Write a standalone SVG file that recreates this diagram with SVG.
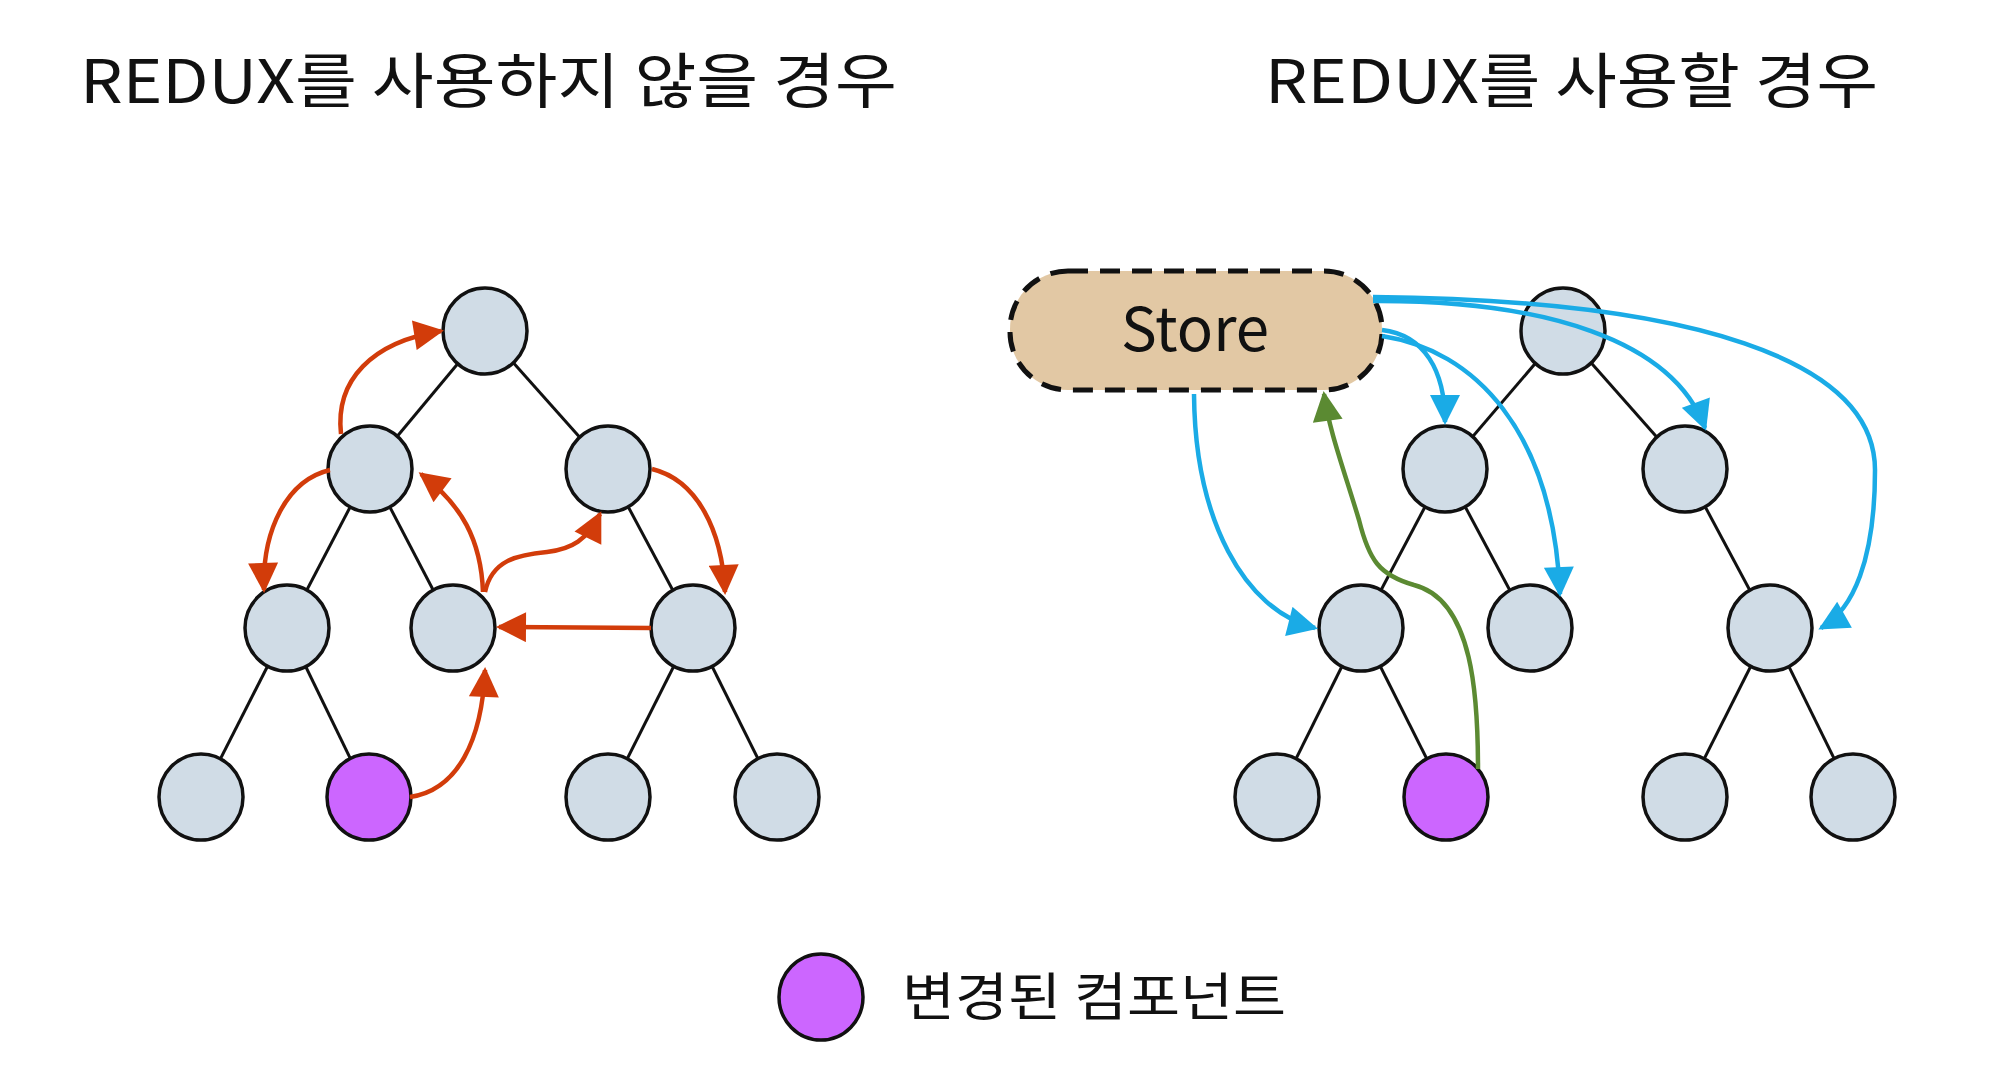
<svg xmlns="http://www.w3.org/2000/svg" width="2000" height="1074" viewBox="0 0 2000 1074">
<style>
.title{font-family:"Noto Sans CJK KR","Liberation Sans",sans-serif;font-size:60px;fill:#111}
.node{fill:#d0dce6;stroke:#111;stroke-width:3.5}
.changed{fill:#cc66ff;stroke:#111;stroke-width:3.5}
.edge{stroke:#111;stroke-width:3;fill:none}
.red{stroke:#d23c0a;stroke-width:4.5;fill:none}
.blue{stroke:#1aabe6;stroke-width:4.5;fill:none}
.green{stroke:#5b8a32;stroke-width:4.5;fill:none}
</style>
<defs>
<marker id="arR" viewBox="0 0 10 10" refX="9" refY="5" markerWidth="32" markerHeight="30" markerUnits="userSpaceOnUse" orient="auto"><path d="M0,0 L10,5 L0,10 z" fill="#d23c0a"/></marker>
<marker id="arB" viewBox="0 0 10 10" refX="9" refY="5" markerWidth="32" markerHeight="30" markerUnits="userSpaceOnUse" orient="auto"><path d="M0,0 L10,5 L0,10 z" fill="#1aabe6"/></marker>
<marker id="arG" viewBox="0 0 10 10" refX="9" refY="5" markerWidth="32" markerHeight="30" markerUnits="userSpaceOnUse" orient="auto"><path d="M0,0 L10,5 L0,10 z" fill="#5b8a32"/></marker>
</defs>
<rect width="2000" height="1074" fill="#fff"/>
<text class="title" x="80" y="103" textLength="817" lengthAdjust="spacingAndGlyphs">REDUX를 사용하지 않을 경우</text>
<text class="title" x="1265" y="103" textLength="613" lengthAdjust="spacingAndGlyphs">REDUX를 사용할 경우</text>

<g id="tree-edges">
<line class="edge" x1="485" y1="331" x2="370" y2="469"/>
<line class="edge" x1="485" y1="331" x2="608" y2="469"/>
<line class="edge" x1="370" y1="469" x2="287" y2="628"/>
<line class="edge" x1="370" y1="469" x2="453" y2="628"/>
<line class="edge" x1="608" y1="469" x2="693" y2="628"/>
<line class="edge" x1="287" y1="628" x2="201" y2="797"/>
<line class="edge" x1="287" y1="628" x2="369" y2="797"/>
<line class="edge" x1="693" y1="628" x2="608" y2="797"/>
<line class="edge" x1="693" y1="628" x2="777" y2="797"/>
<line class="edge" x1="1563" y1="331" x2="1445" y2="469"/>
<line class="edge" x1="1563" y1="331" x2="1685" y2="469"/>
<line class="edge" x1="1445" y1="469" x2="1361" y2="628"/>
<line class="edge" x1="1445" y1="469" x2="1530" y2="628"/>
<line class="edge" x1="1685" y1="469" x2="1770" y2="628"/>
<line class="edge" x1="1361" y1="628" x2="1277" y2="797"/>
<line class="edge" x1="1361" y1="628" x2="1446" y2="797"/>
<line class="edge" x1="1770" y1="628" x2="1685" y2="797"/>
<line class="edge" x1="1770" y1="628" x2="1853" y2="797"/>
</g>

<g id="left-nodes">
<g id="L-root"><ellipse class="node" cx="485" cy="331" rx="42" ry="43"/></g>
<g id="L-2a"><ellipse class="node" cx="370" cy="469" rx="42" ry="43"/></g>
<g id="L-2b"><ellipse class="node" cx="608" cy="469" rx="42" ry="43"/></g>
<g id="L-3a"><ellipse class="node" cx="287" cy="628" rx="42" ry="43"/></g>
<g id="L-3b"><ellipse class="node" cx="453" cy="628" rx="42" ry="43"/></g>
<g id="L-3c"><ellipse class="node" cx="693" cy="628" rx="42" ry="43"/></g>
<g id="L-4a"><ellipse class="node" cx="201" cy="797" rx="42" ry="43"/></g>
<g id="L-4b"><ellipse class="changed" cx="369" cy="797" rx="42" ry="43"/></g>
<g id="L-4c"><ellipse class="node" cx="608" cy="797" rx="42" ry="43"/></g>
<g id="L-4d"><ellipse class="node" cx="777" cy="797" rx="42" ry="43"/></g>
</g>

<g id="right-nodes">
<g id="R-root"><ellipse class="node" cx="1563" cy="331" rx="42" ry="43"/></g>
<g id="R-2a"><ellipse class="node" cx="1445" cy="469" rx="42" ry="43"/></g>
<g id="R-2b"><ellipse class="node" cx="1685" cy="469" rx="42" ry="43"/></g>
<g id="R-3a"><ellipse class="node" cx="1361" cy="628" rx="42" ry="43"/></g>
<g id="R-3b"><ellipse class="node" cx="1530" cy="628" rx="42" ry="43"/></g>
<g id="R-3c"><ellipse class="node" cx="1770" cy="628" rx="42" ry="43"/></g>
<g id="R-4a"><ellipse class="node" cx="1277" cy="797" rx="42" ry="43"/></g>
<g id="R-4b"><ellipse class="changed" cx="1446" cy="797" rx="42" ry="43"/></g>
<g id="R-4c"><ellipse class="node" cx="1685" cy="797" rx="42" ry="43"/></g>
<g id="R-4d"><ellipse class="node" cx="1853" cy="797" rx="42" ry="43"/></g>
</g>

<g id="store">
<rect x="1010" y="271" width="372" height="119" rx="58" ry="58" fill="#e2c8a4" stroke="#111" stroke-width="5" stroke-dasharray="20 12"/>
<text x="1195" y="351" text-anchor="middle" font-family="'Noto Sans CJK KR','Liberation Sans',sans-serif" font-size="60" fill="#111">Store</text>
</g>

<g id="connectors">
<path class="red" d="M341 434 C335 380 372 342 441 331" marker-end="url(#arR)"/>
<path class="red" d="M330 470 C287 480 262 530 264 590" marker-end="url(#arR)"/>
<path class="red" d="M483 592 C481 540 462 505 421 474" marker-end="url(#arR)"/>
<path class="red" d="M485 592 C492 560 517 555 547 552 C572 549 587 540 600 514" marker-end="url(#arR)"/>
<path class="red" d="M652 469 C697 480 722 530 725 592" marker-end="url(#arR)"/>
<path class="red" d="M651 628 L499 627" marker-end="url(#arR)"/>
<path class="red" d="M410 797 C458 790 482 740 485 670" marker-end="url(#arR)"/>

<path class="blue" d="M1194 394 C1195 520 1244 610 1315 628" marker-end="url(#arB)"/>
<path class="blue" d="M1382 330 C1424 335 1445 370 1445 422" marker-end="url(#arB)"/>
<path class="blue" d="M1382 336 C1474 350 1553 430 1560 594" marker-end="url(#arB)"/>
<path class="blue" d="M1373 301 C1544 300 1673 340 1705 428" marker-end="url(#arB)"/>
<path class="blue" d="M1373 297 C1694 300 1875 360 1875 470 C1875 560 1853 610 1821 628" marker-end="url(#arB)"/>

<path class="green" d="M1478 769 C1478 700 1474 600 1414 585 C1379 575 1369 560 1359 520 C1344 470 1329 430 1324 394" marker-end="url(#arG)"/>
</g>

<g id="legend">
<ellipse class="changed" cx="821" cy="997" rx="42" ry="43"/>
<text x="902" y="1016" font-family="'Noto Sans CJK KR',sans-serif" font-size="52" fill="#111" textLength="384" lengthAdjust="spacingAndGlyphs">변경된 컴포넌트</text>
</g>
</svg>
